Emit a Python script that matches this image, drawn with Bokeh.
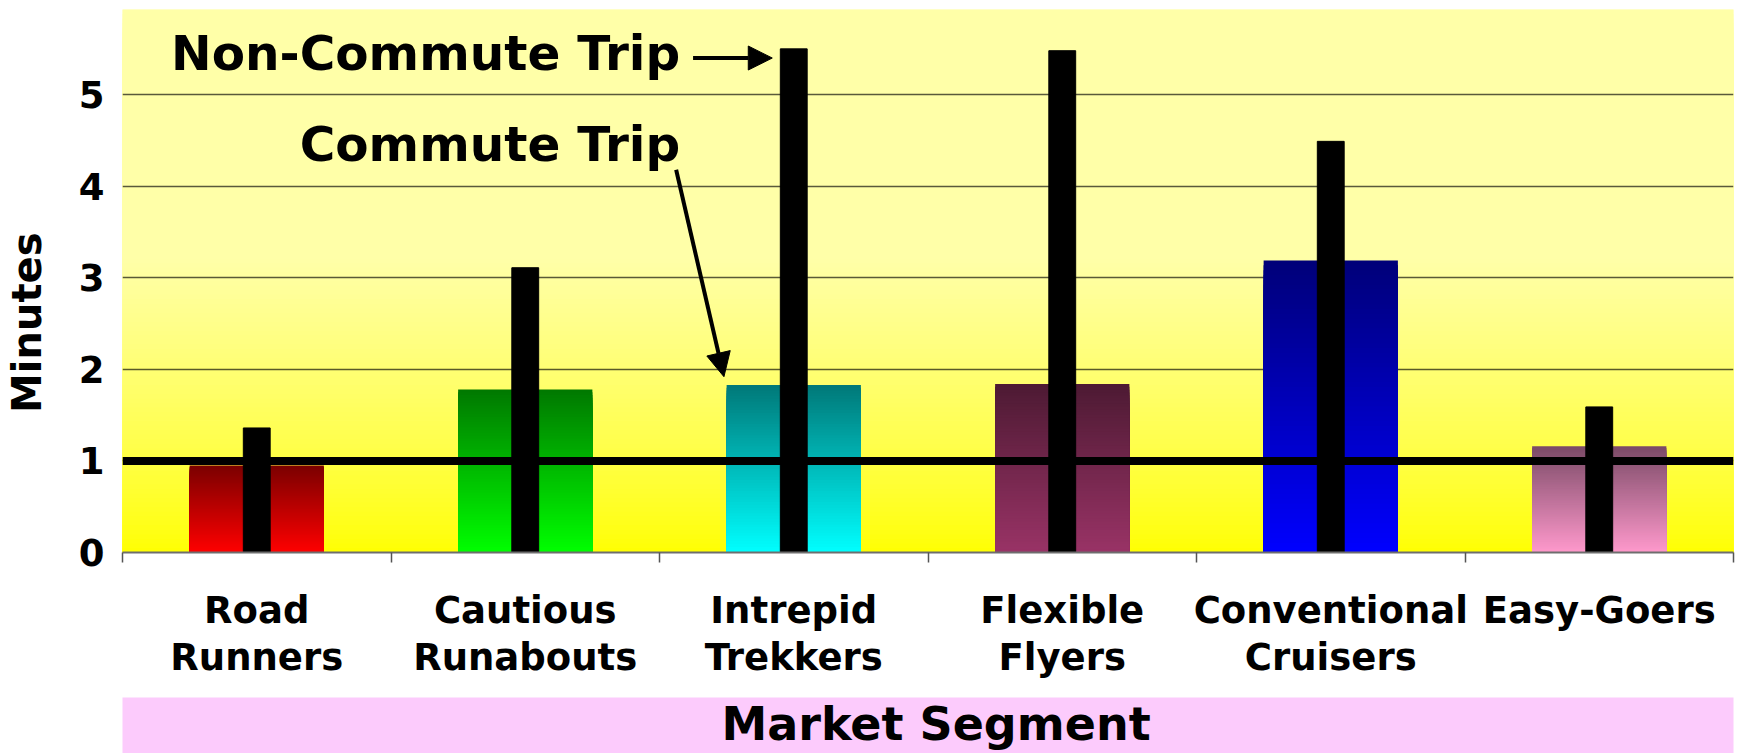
from bokeh.plotting import figure
from bokeh.layouts import column
from bokeh.models import (Range1d, FixedTicker, LinearAxis, Span, Label, Arrow,
                          NormalHead, ColumnDataSource)
from bokeh.embed import file_html
from bokeh.resources import INLINE
from bokeh.core.properties import value

# --- data -----------------------------------------------------------------
segments = ["Road\nRunners", "Cautious\nRunabouts", "Intrepid\nTrekkers",
            "Flexible\nFlyers", "Conventional\nCruisers", "Easy-Goers"]
commute_minutes = [0.95, 1.78, 1.83, 1.84, 3.19, 1.16]
non_commute_minutes = [1.36, 3.11, 5.50, 5.48, 4.49, 1.59]
y_ticks = [0, 1, 2, 3, 4, 5]
reference_level = 1

# gradient end colours of each commute bar: (top, bottom)
bar_colors = [((122, 0, 0), (255, 0, 0)),
              ((0, 120, 0), (0, 255, 0)),
              ((0, 120, 120), (0, 255, 255)),
              ((77, 26, 51), (153, 51, 102)),
              ((0, 0, 120), (0, 0, 255)),
              ((122, 74, 102), (255, 153, 204))]

FONT = "DejaVu Sans"
Y_MAX = 5.93
N = len(segments)


def hexcol(rgb):
    return "#%02x%02x%02x" % tuple(int(round(c)) for c in rgb)


def mix(a, b, t):
    return tuple(a[k] + (b[k] - a[k]) * t for k in range(3))


p = figure(width=1740, height=690, x_range=Range1d(0, N), y_range=Range1d(0, Y_MAX),
           output_backend="svg", toolbar_location=None, x_axis_location=None,
           min_border_left=120, min_border_right=5, min_border_top=9,
           min_border_bottom=138)
p.outline_line_color = None
p.background_fill_color = "#ffffa8"
p.border_fill_color = "white"

# plot-area background: pale yellow fading to full yellow near the floor.
# Each band runs from the floor up to its level and later (lower) bands are
# painted over earlier ones, so no seams show between neighbours.
bg_src = dict(top=[], color=[])
steps = 120
for k in range(steps, 0, -1):
    t = Y_MAX * k / steps
    m = Y_MAX * (k - 0.5) / steps
    f = min(1.0, (m / 3.2)) ** 0.8
    bg_src["top"].append(t)
    bg_src["color"].append(hexcol((255, 255, 168 * f)))
bg = p.quad(left=0, right=N, bottom=0, top="top", fill_color="color",
            line_color=None, source=ColumnDataSource(bg_src))
bg.level = "image"

# y axis and grid; the title is padded at its upper end with no-break spaces
# so that the word sits a little below the middle of the axis
p.yaxis.ticker = FixedTicker(ticks=y_ticks)
p.yaxis.axis_line_color = None
p.yaxis.major_tick_line_color = None
p.yaxis.minor_tick_line_color = None
p.yaxis.major_label_standoff = 12
p.yaxis.major_label_text_font = FONT
p.yaxis.major_label_text_font_style = "bold"
p.yaxis.major_label_text_font_size = "37px"
p.yaxis.major_label_text_color = "black"
p.yaxis.axis_label = "Minutes" + "\u00a0" * 6
p.yaxis.axis_label_text_font = FONT
p.yaxis.axis_label_text_font_style = "bold"
p.yaxis.axis_label_text_font_size = "40px"
p.yaxis.axis_label_text_color = "black"
p.yaxis.axis_label_standoff = 26
p.xgrid.visible = False
p.ygrid.ticker = FixedTicker(ticks=y_ticks)
p.ygrid.grid_line_color = "black"
p.ygrid.grid_line_alpha = 0.65
p.ygrid.grid_line_width = 1.5

# x axis: boundary ticks, then segment names centred in each slot
tick_axis = LinearAxis(ticker=FixedTicker(ticks=list(range(N + 1))),
                       major_label_overrides={i: "" for i in range(N + 1)},
                       axis_line_color="#6e6e6e", axis_line_width=2,
                       major_tick_line_color="#555555", major_tick_line_width=1.5,
                       major_tick_in=0, major_tick_out=10,
                       minor_tick_line_color=None,
                       major_label_text_font_size="1px", major_label_standoff=0)
p.add_layout(tick_axis, "below")

centers = [i + 0.5 for i in range(N)]
label_axis = LinearAxis(ticker=FixedTicker(ticks=centers),
                        major_label_overrides={c: s for c, s in zip(centers, segments)},
                        axis_line_color=None, major_tick_line_color=None,
                        minor_tick_line_color=None, major_label_standoff=20,
                        major_label_text_font=FONT, major_label_text_font_style="bold",
                        major_label_text_font_size="37px", major_label_text_color="black",
                        major_label_text_line_height=1.1)
p.add_layout(label_axis, "below")

# commute bars with a vertical dark-to-bright gradient, painted top-down so
# each lower slice overlaps the one above it
bar_src = dict(left=[], right=[], top=[], color=[])
strips = 60
for i, (v, (c_top, c_bot)) in enumerate(zip(commute_minutes, bar_colors)):
    for k in range(strips, 0, -1):
        bar_src["left"].append(centers[i] - 0.25)
        bar_src["right"].append(centers[i] + 0.25)
        bar_src["top"].append(v * k / strips)
        bar_src["color"].append(hexcol(mix(c_bot, c_top, (k - 0.5) / strips)))
p.quad(left="left", right="right", bottom=0, top="top", fill_color="color",
       line_color=None, source=ColumnDataSource(bar_src))

# non-commute bars
p.vbar(x=centers, top=non_commute_minutes, width=0.1, fill_color="black",
       line_color="black")

# reference line at one minute
p.add_layout(Span(location=reference_level, dimension="width", line_color="black",
                  line_width=8))

# callouts
p.add_layout(Label(x=2.077, y=5.45, text="Non-Commute Trip", text_align="right",
                   text_baseline="alphabetic", text_font=FONT,
                   text_font_style="bold", text_font_size="48.5px", text_color="black"))
p.add_layout(Label(x=2.077, y=4.46, text="Commute Trip", text_align="right",
                   text_baseline="alphabetic", text_font=FONT,
                   text_font_style="bold", text_font_size="48.5px", text_color="black"))
p.add_layout(Arrow(x_start=2.125, y_start=5.40, x_end=2.42, y_end=5.40,
                   line_width=4, line_color="black",
                   end=NormalHead(size=24, fill_color="black", line_color="black")))
p.add_layout(Arrow(x_start=2.062, y_start=4.18, x_end=2.24, y_end=1.92,
                   line_width=4, line_color="black",
                   end=NormalHead(size=24, fill_color="black", line_color="black")))

# pink axis-title band
band = figure(width=1740, height=63, x_range=Range1d(0, 1), y_range=Range1d(0, 1),
              output_backend="svg", toolbar_location=None,
              x_axis_location=None, y_axis_location=None,
              min_border_left=115, min_border_right=7, min_border_top=7,
              min_border_bottom=0)
band.grid.visible = False
band.outline_line_color = None
band.background_fill_color = "#fccbfc"
band.border_fill_color = "white"
band.text(x=[0.505], y=[0.52], text=["Market Segment"], text_align="center",
          text_baseline="middle", text_font=value(FONT), text_font_style="bold",
          text_font_size="46px", text_color="black")

layout = column(p, band, spacing=0)
open("out.html", "w").write(file_html(layout, INLINE))
